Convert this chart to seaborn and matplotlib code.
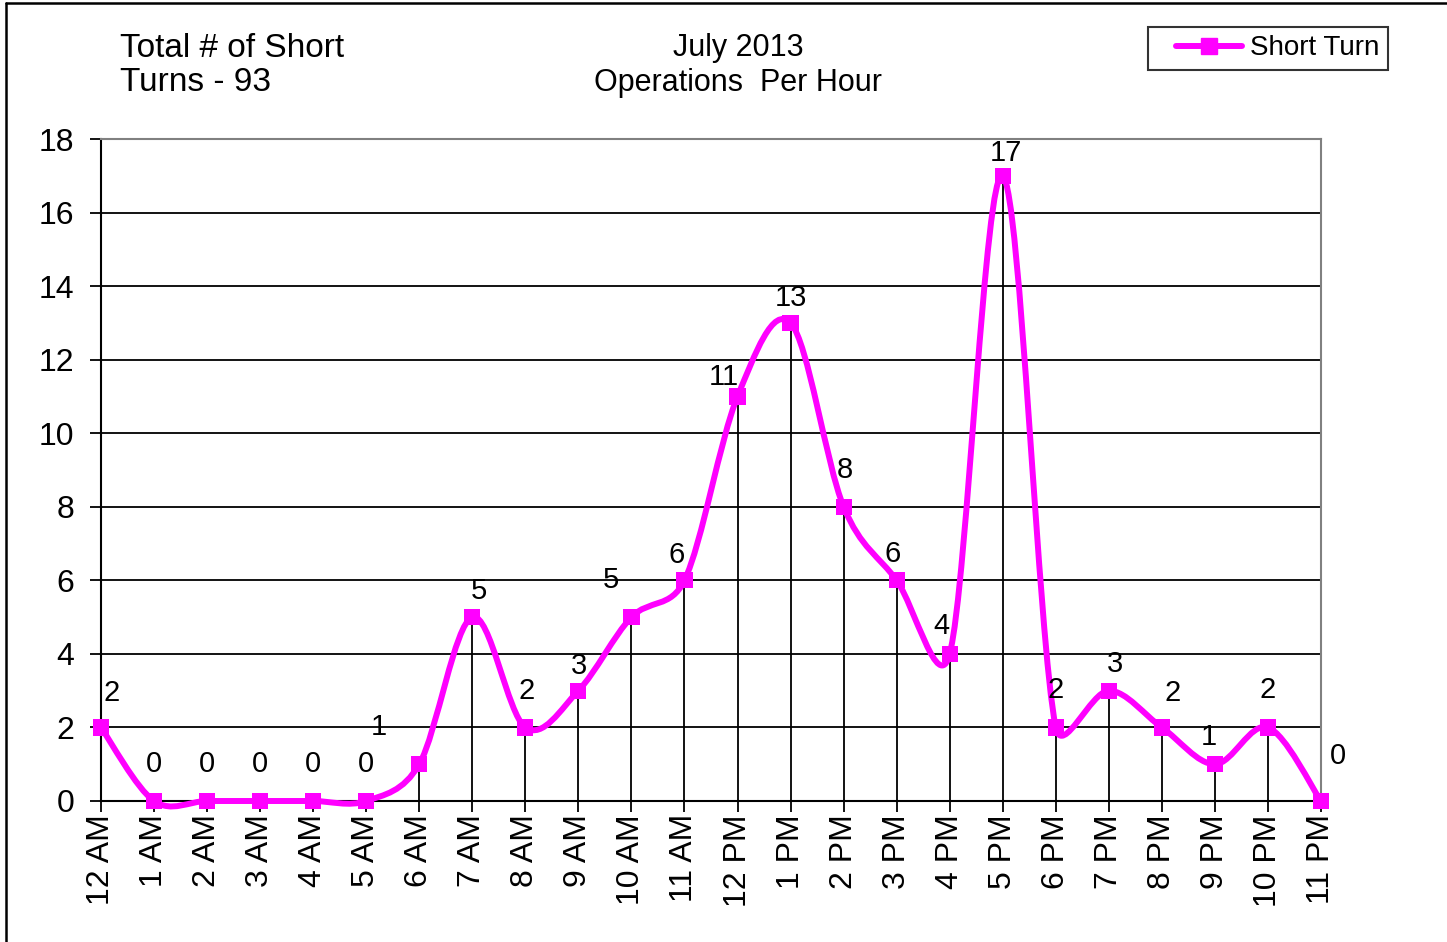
import numpy as np
import matplotlib
matplotlib.use("Agg")
import matplotlib.pyplot as plt
from matplotlib.path import Path
from matplotlib.patches import PathPatch
from matplotlib.lines import Line2D
from matplotlib.legend_handler import HandlerLine2D
import seaborn as sns

# Data
hour_labels = ["12 AM", "1 AM", "2 AM", "3 AM", "4 AM", "5 AM", "6 AM", "7 AM",
               "8 AM", "9 AM", "10 AM", "11 AM", "12 PM", "1 PM", "2 PM", "3 PM",
               "4 PM", "5 PM", "6 PM", "7 PM", "8 PM", "9 PM", "10 PM", "11 PM"]
short_turns = [2, 0, 0, 0, 0, 0, 1, 5, 2, 3, 5, 6, 11, 13, 8, 6, 4, 17, 2, 3, 2, 1, 2, 0]
series_name = "Short Turn"
title_left = "Total # of Short\nTurns - 93"
title_center = "July 2013\nOperations  Per Hour"

# label nudges in pixels (dx, dy up), mimicking Excel's placement
label_nudge = [(11, 34), (0, 37), (0, 37), (0, 37), (0, 37), (0, 37), (-40, 37),
               (7, 26), (1, 36), (1, 25), (-21, 37), (-8, 25), (-14, 19), (0, 25),
               (1, 37), (-4, 26), (-8, 28), (3, 23), (0, 37), (6, 27), (11, 34),
               (-6, 27), (0, 37), (17, 45)]

MAGENTA = "#FF00FF"

sns.set_theme(style="white")
plt.rcParams["font.family"] = ["Liberation Sans", "DejaVu Sans"]
plt.rcParams["text.color"] = "black"
plt.rcParams["xtick.labelcolor"] = "black"
plt.rcParams["ytick.labelcolor"] = "black"

W, H = 1447, 942
fig = plt.figure(figsize=(W / 100, H / 100), dpi=100)
ax = fig.add_axes([101 / W, 1 - 801 / H, 1220 / W, 662 / H])

x = np.arange(len(short_turns))
y = np.array(short_turns, dtype=float)

# pixel size of one data unit, so the smoothing is done in screen space like Excel
SX, SY = 1220 / 23, 662 / 18


def smooth_path(xs, ys):
    # Excel-style smoothed line: Catmull-Rom Bezier (1/6 arms), each arm
    # capped at half the length of its segment
    pts = np.column_stack([xs * SX, ys * SY])
    n = len(pts)
    verts = [pts[0]]
    codes = [Path.MOVETO]
    for i in range(n - 1):
        p0 = pts[i - 1] if i > 0 else pts[i]
        p1 = pts[i]
        p2 = pts[i + 1]
        p3 = pts[i + 2] if i + 2 < n else pts[i + 1]
        d12 = np.hypot(*(p2 - p1))
        d02 = np.hypot(*(p2 - p0))
        d13 = np.hypot(*(p3 - p1))
        f1 = min(1 / 6, d12 / (2 * d02)) if d02 > 0 else 0
        f2 = min(1 / 6, d12 / (2 * d13)) if d13 > 0 else 0
        c1 = p1 + (p2 - p0) * f1
        c2 = p2 - (p3 - p1) * f2
        verts += [c1, c2, p2]
        codes += [Path.CURVE4] * 3
    verts = np.array(verts) / np.array([SX, SY])
    return Path(verts, codes)


# drop lines
ax.vlines(x, 0, y, color="black", lw=1.3, zorder=2)

# smoothed series
patch = PathPatch(smooth_path(x, y), facecolor="none", edgecolor=MAGENTA,
                  lw=4.3, zorder=4, clip_on=False, capstyle="round", joinstyle="round")
ax.add_patch(patch)

sns.scatterplot(x=x, y=y, marker="s", s=135, color=MAGENTA, edgecolor="none",
                linewidth=0, zorder=5, clip_on=False, ax=ax, legend=False)

# data labels
for xi, yi, (dx, dy) in zip(x, short_turns, label_nudge):
    ax.annotate(str(yi), (xi, yi), xytext=(dx, dy), textcoords="offset pixels",
                ha="center", va="center", fontsize=21, color="black", zorder=6)

ax.set_xlim(0, 23)
ax.set_ylim(0, 18)
ax.set_yticks(range(0, 19, 2))
ax.set_xticks(x)
ax.set_xticklabels(hour_labels, rotation=90, fontsize=23)
ax.tick_params(axis="y", labelsize=23, length=8, width=1.3, color="black",
               direction="out", left=True, pad=11)
ax.tick_params(axis="x", length=8, width=1.3, color="black", direction="out",
               bottom=True, pad=1.5)
ax.set_xlabel("")
ax.set_ylabel("")

ax.yaxis.grid(True, color="black", lw=1.3)
ax.xaxis.grid(False)
ax.get_ygridlines()[-1].set_visible(False)
ax.set_axisbelow(True)

for side in ["top", "right"]:
    ax.spines[side].set_color("#808080")
    ax.spines[side].set_linewidth(1.5)
for side in ["left", "bottom"]:
    ax.spines[side].set_color("black")
    ax.spines[side].set_linewidth(1.5)

# titles
fig.text(120 / W, 1 - 33 / H, title_left, ha="left", va="top", fontsize=24,
         linespacing=1.12)
fig.text(738 / W, 1 - 33 / H, title_center, ha="center", va="top", fontsize=22,
         linespacing=1.22, multialignment="center")

# legend
handle = Line2D([], [], color=MAGENTA, lw=4.3, marker="s", markersize=11)
leg = fig.legend([handle], [series_name], loc="upper right",
                 bbox_to_anchor=(1388 / W, 1 - 27 / H), borderaxespad=0,
                 fontsize=20, frameon=True, fancybox=False, handlelength=3.1,
                 handletextpad=0.3, borderpad=0.3,
                 handler_map={Line2D: HandlerLine2D(xpad=0.72)})
leg.get_frame().set_edgecolor("black")
leg.get_frame().set_linewidth(1.5)

# outer chart border (left and top edges visible)
fig.add_artist(Line2D([6 / W, 6 / W], [0, 1 - 3 / H], transform=fig.transFigure,
                      color="black", lw=1.8))
fig.add_artist(Line2D([6 / W, 1], [1 - 3 / H, 1 - 3 / H], transform=fig.transFigure,
                      color="black", lw=1.8))

fig.savefig("out.png", dpi=100)
